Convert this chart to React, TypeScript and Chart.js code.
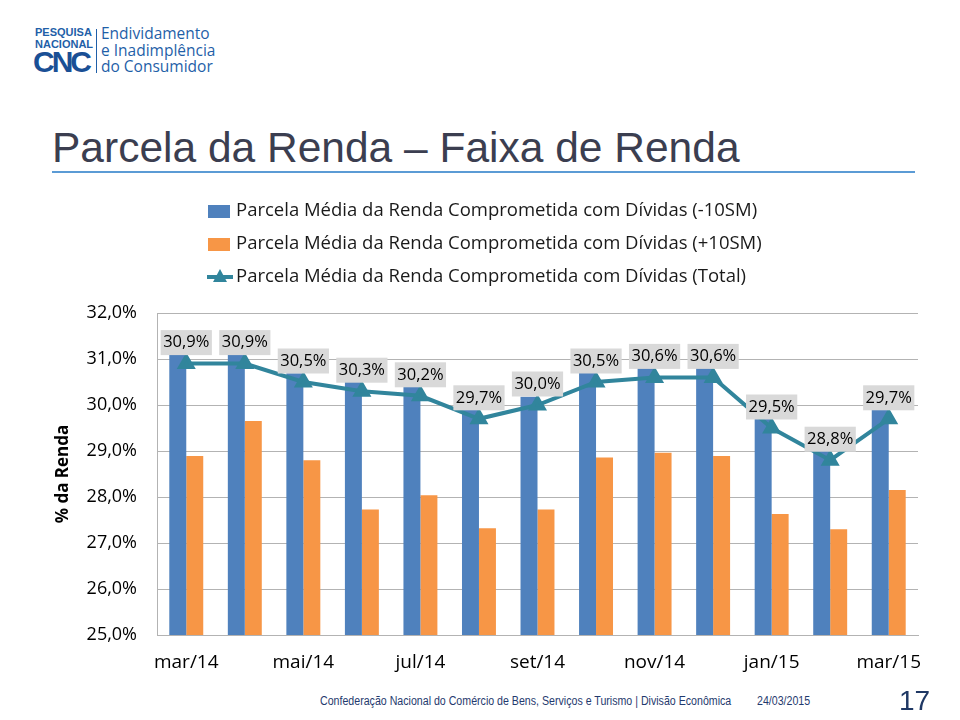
import React, { useEffect, useRef } from 'react';
import { Chart, registerables } from 'chart.js';

Chart.register(...registerables);

const categories = ['mar/14', 'abr/14', 'mai/14', 'jun/14', 'jul/14', 'ago/14', 'set/14', 'out/14', 'nov/14', 'dez/14', 'jan/15', 'fev/15', 'mar/15'];
const shownTickLabels = ['mar/14', 'mai/14', 'jul/14', 'set/14', 'nov/14', 'jan/15', 'mar/15'];
const seriesNames = [
  'Parcela Média da Renda Comprometida com Dívidas (-10SM)',
  'Parcela Média da Renda Comprometida com Dívidas (+10SM)',
  'Parcela Média da Renda Comprometida com Dívidas (Total)',
];
const below10SM = [31.15, 31.12, 30.69, 30.54, 30.47, 29.93, 30.18, 30.76, 30.87, 30.83, 29.76, 29.02, 29.89];
const above10SM = [28.89, 29.65, 28.8, 27.73, 28.04, 27.32, 27.73, 28.86, 28.96, 28.89, 27.63, 27.3, 28.15];
const totalValues = [30.9, 30.9, 30.5, 30.3, 30.2, 29.7, 30.0, 30.5, 30.6, 30.6, 29.5, 28.8, 29.7];
const yMin = 25;
const yMax = 32;
const yStep = 1;

const BLUE = '#4f81bd';
const ORANGE = '#f79646';
const TEAL = '#31859c';
const GRID = '#b3b3b3';
const FONT = '"Open Sans"';

const fmt = (v: number) => v.toFixed(1).replace('.', ',') + '%';

export default function App() {
  const ref = useRef<HTMLCanvasElement>(null);

  useEffect(() => {
    if (!ref.current) return;

    const labelPlugin = {
      id: 'totalLabels',
      afterDatasetsDraw(chart: any) {
        const ctx = chart.ctx;
        const meta = chart.getDatasetMeta(2);
        ctx.save();
        ctx.font = `16.5px ${FONT}`;
        ctx.textAlign = 'center';
        ctx.textBaseline = 'middle';
        meta.data.forEach((pt: any, i: number) => {
          const text = fmt(totalValues[i]);
          const w = ctx.measureText(text).width + 5;
          const h = 25;
          const cx = pt.x;
          const cy = pt.y - 21;
          ctx.fillStyle = '#d9d9d9';
          ctx.fillRect(cx - w / 2, cy - h / 2, w, h);
          ctx.fillStyle = '#000';
          ctx.fillText(text, cx, cy);
        });
        ctx.restore();
      },
    };

    const legendPlugin = {
      id: 'customLegend',
      afterDraw(chart: any) {
        const ctx = chart.ctx;
        const ds = chart.data.datasets;
        const rows = [21, 54, 87];
        ctx.save();
        ctx.font = `18.5px ${FONT}`;
        ctx.textAlign = 'left';
        ctx.textBaseline = 'middle';
        rows.forEach((y, i) => {
          const d = ds[i];
          if (i < 2) {
            ctx.fillStyle = d.backgroundColor;
            ctx.fillRect(208, y - 6, 22, 13);
          } else {
            ctx.strokeStyle = d.borderColor;
            ctx.lineWidth = 4;
            ctx.beginPath();
            ctx.moveTo(207, y);
            ctx.lineTo(233, y);
            ctx.stroke();
            ctx.fillStyle = d.borderColor;
            ctx.beginPath();
            ctx.moveTo(220, y - 8);
            ctx.lineTo(227, y + 5);
            ctx.lineTo(213, y + 5);
            ctx.closePath();
            ctx.fill();
          }
          ctx.fillStyle = '#1a1a1a';
          ctx.fillText(d.label, 236, y);
        });
        ctx.restore();
      },
    };

    const chart = new Chart(ref.current, {
      type: 'bar',
      data: {
        labels: categories,
        datasets: [
          {
            type: 'bar',
            label: seriesNames[0],
            data: below10SM,
            backgroundColor: BLUE,
            borderWidth: 0,
            categoryPercentage: 0.58,
            barPercentage: 1,
            order: 1,
          },
          {
            type: 'bar',
            label: seriesNames[1],
            data: above10SM,
            backgroundColor: ORANGE,
            borderWidth: 0,
            categoryPercentage: 0.58,
            barPercentage: 1,
            order: 1,
          },
          {
            type: 'line',
            label: seriesNames[2],
            data: totalValues,
            borderColor: TEAL,
            backgroundColor: TEAL,
            borderWidth: 4,
            pointStyle: 'triangle',
            pointRadius: 7,
            pointBackgroundColor: TEAL,
            pointBorderColor: TEAL,
            tension: 0,
            order: 0,
          },
        ] as any,
      },
      options: {
        responsive: false,
        animation: false,
        devicePixelRatio: 1,
        layout: { padding: { left: 53, right: 42, top: 123, bottom: 15 } },
        plugins: {
          legend: { display: false },
          tooltip: { enabled: false },
        },
        scales: {
          x: {
            grid: { display: false, drawTicks: false },
            border: { display: true, color: GRID, width: 1 },
            ticks: {
              autoSkip: false,
              maxRotation: 0,
              padding: 16,
              color: '#000',
              font: { family: FONT, size: 19 },
              callback: (_v: any, i: number) => (shownTickLabels.includes(categories[i]) ? categories[i] : ''),
            },
            afterFit: (s: any) => {
              s.height = 40;
            },
          },
          y: {
            min: yMin,
            max: yMax,
            grid: { color: GRID, lineWidth: 1, drawTicks: false },
            border: { display: true, color: GRID, width: 1 },
            ticks: {
              stepSize: yStep,
              padding: 20,
              color: '#000',
              font: { family: FONT, size: 18 },
              callback: (v: any) => fmt(Number(v)),
            },
            title: {
              display: true,
              text: '% da Renda',
              color: '#000',
              padding: 0,
              font: { family: FONT, size: 17, weight: 'bold' },
            },
            afterFit: (s: any) => {
              s.width = 104;
            },
          },
        },
      } as any,
      plugins: [labelPlugin, legendPlugin],
    });

    return () => chart.destroy();
  }, []);

  const blue = '#1f5fa8';
  return (
    <div style={{ position: 'absolute', left: 0, top: 0, width: 960, height: 720, background: '#fff', overflow: 'hidden' }}>
      {/* Logo */}
      <div style={{ position: 'absolute', left: 35, top: 26, fontFamily: 'Liberation Sans, Arial, sans-serif', fontWeight: 'bold', fontSize: 11, lineHeight: '12px', color: blue }}>
        PESQUISA<br />NACIONAL
      </div>
      <div style={{ position: 'absolute', left: 33, top: 47, fontFamily: 'Liberation Sans, Arial, sans-serif', fontWeight: 900, fontSize: 30, lineHeight: '30px', letterSpacing: -3, color: '#1a4f95' }}>
        CNC
      </div>
      <div style={{ position: 'absolute', left: 96, top: 29, width: 1, height: 44, background: blue }} />
      <div style={{ position: 'absolute', left: 101, top: 25, fontFamily: 'Open Sans, sans-serif', fontSize: 15.5, lineHeight: '16.5px', color: blue }}>
        Endividamento<br />e Inadimplência<br />do Consumidor
      </div>

      {/* Title */}
      <div style={{ position: 'absolute', left: 52, top: 127, fontFamily: 'Liberation Sans, Arial, sans-serif', fontSize: 42.5, lineHeight: '42px', color: '#3b3e50', whiteSpace: 'nowrap' }}>
        Parcela da Renda – Faixa de Renda
      </div>
      <div style={{ position: 'absolute', left: 52, top: 171, width: 863, height: 2, background: '#5b9bd5' }} />

      <canvas ref={ref} width={960} height={500} style={{ position: 'absolute', left: 0, top: 190, display: 'block' }} />

      {/* Footer */}
      <div style={{ position: 'absolute', left: 320, top: 694, fontFamily: 'Liberation Sans, Arial, sans-serif', fontSize: 12, lineHeight: '14px', color: '#1f3a6e', whiteSpace: 'nowrap', transform: 'scaleX(0.885)', transformOrigin: 'left top' }}>
        Confederação Nacional do Comércio de Bens, Serviços e Turismo | Divisão Econômica
      </div>
      <div style={{ position: 'absolute', left: 757, top: 694, fontFamily: 'Liberation Sans, Arial, sans-serif', fontSize: 12, lineHeight: '14px', color: '#1f3a6e', whiteSpace: 'nowrap', transform: 'scaleX(0.885)', transformOrigin: 'left top' }}>
        24/03/2015
      </div>
      <div style={{ position: 'absolute', left: 899, top: 686, fontFamily: 'Liberation Sans, Arial, sans-serif', fontSize: 28, lineHeight: '30px', color: '#1f3864' }}>
        17
      </div>
    </div>
  );
}
